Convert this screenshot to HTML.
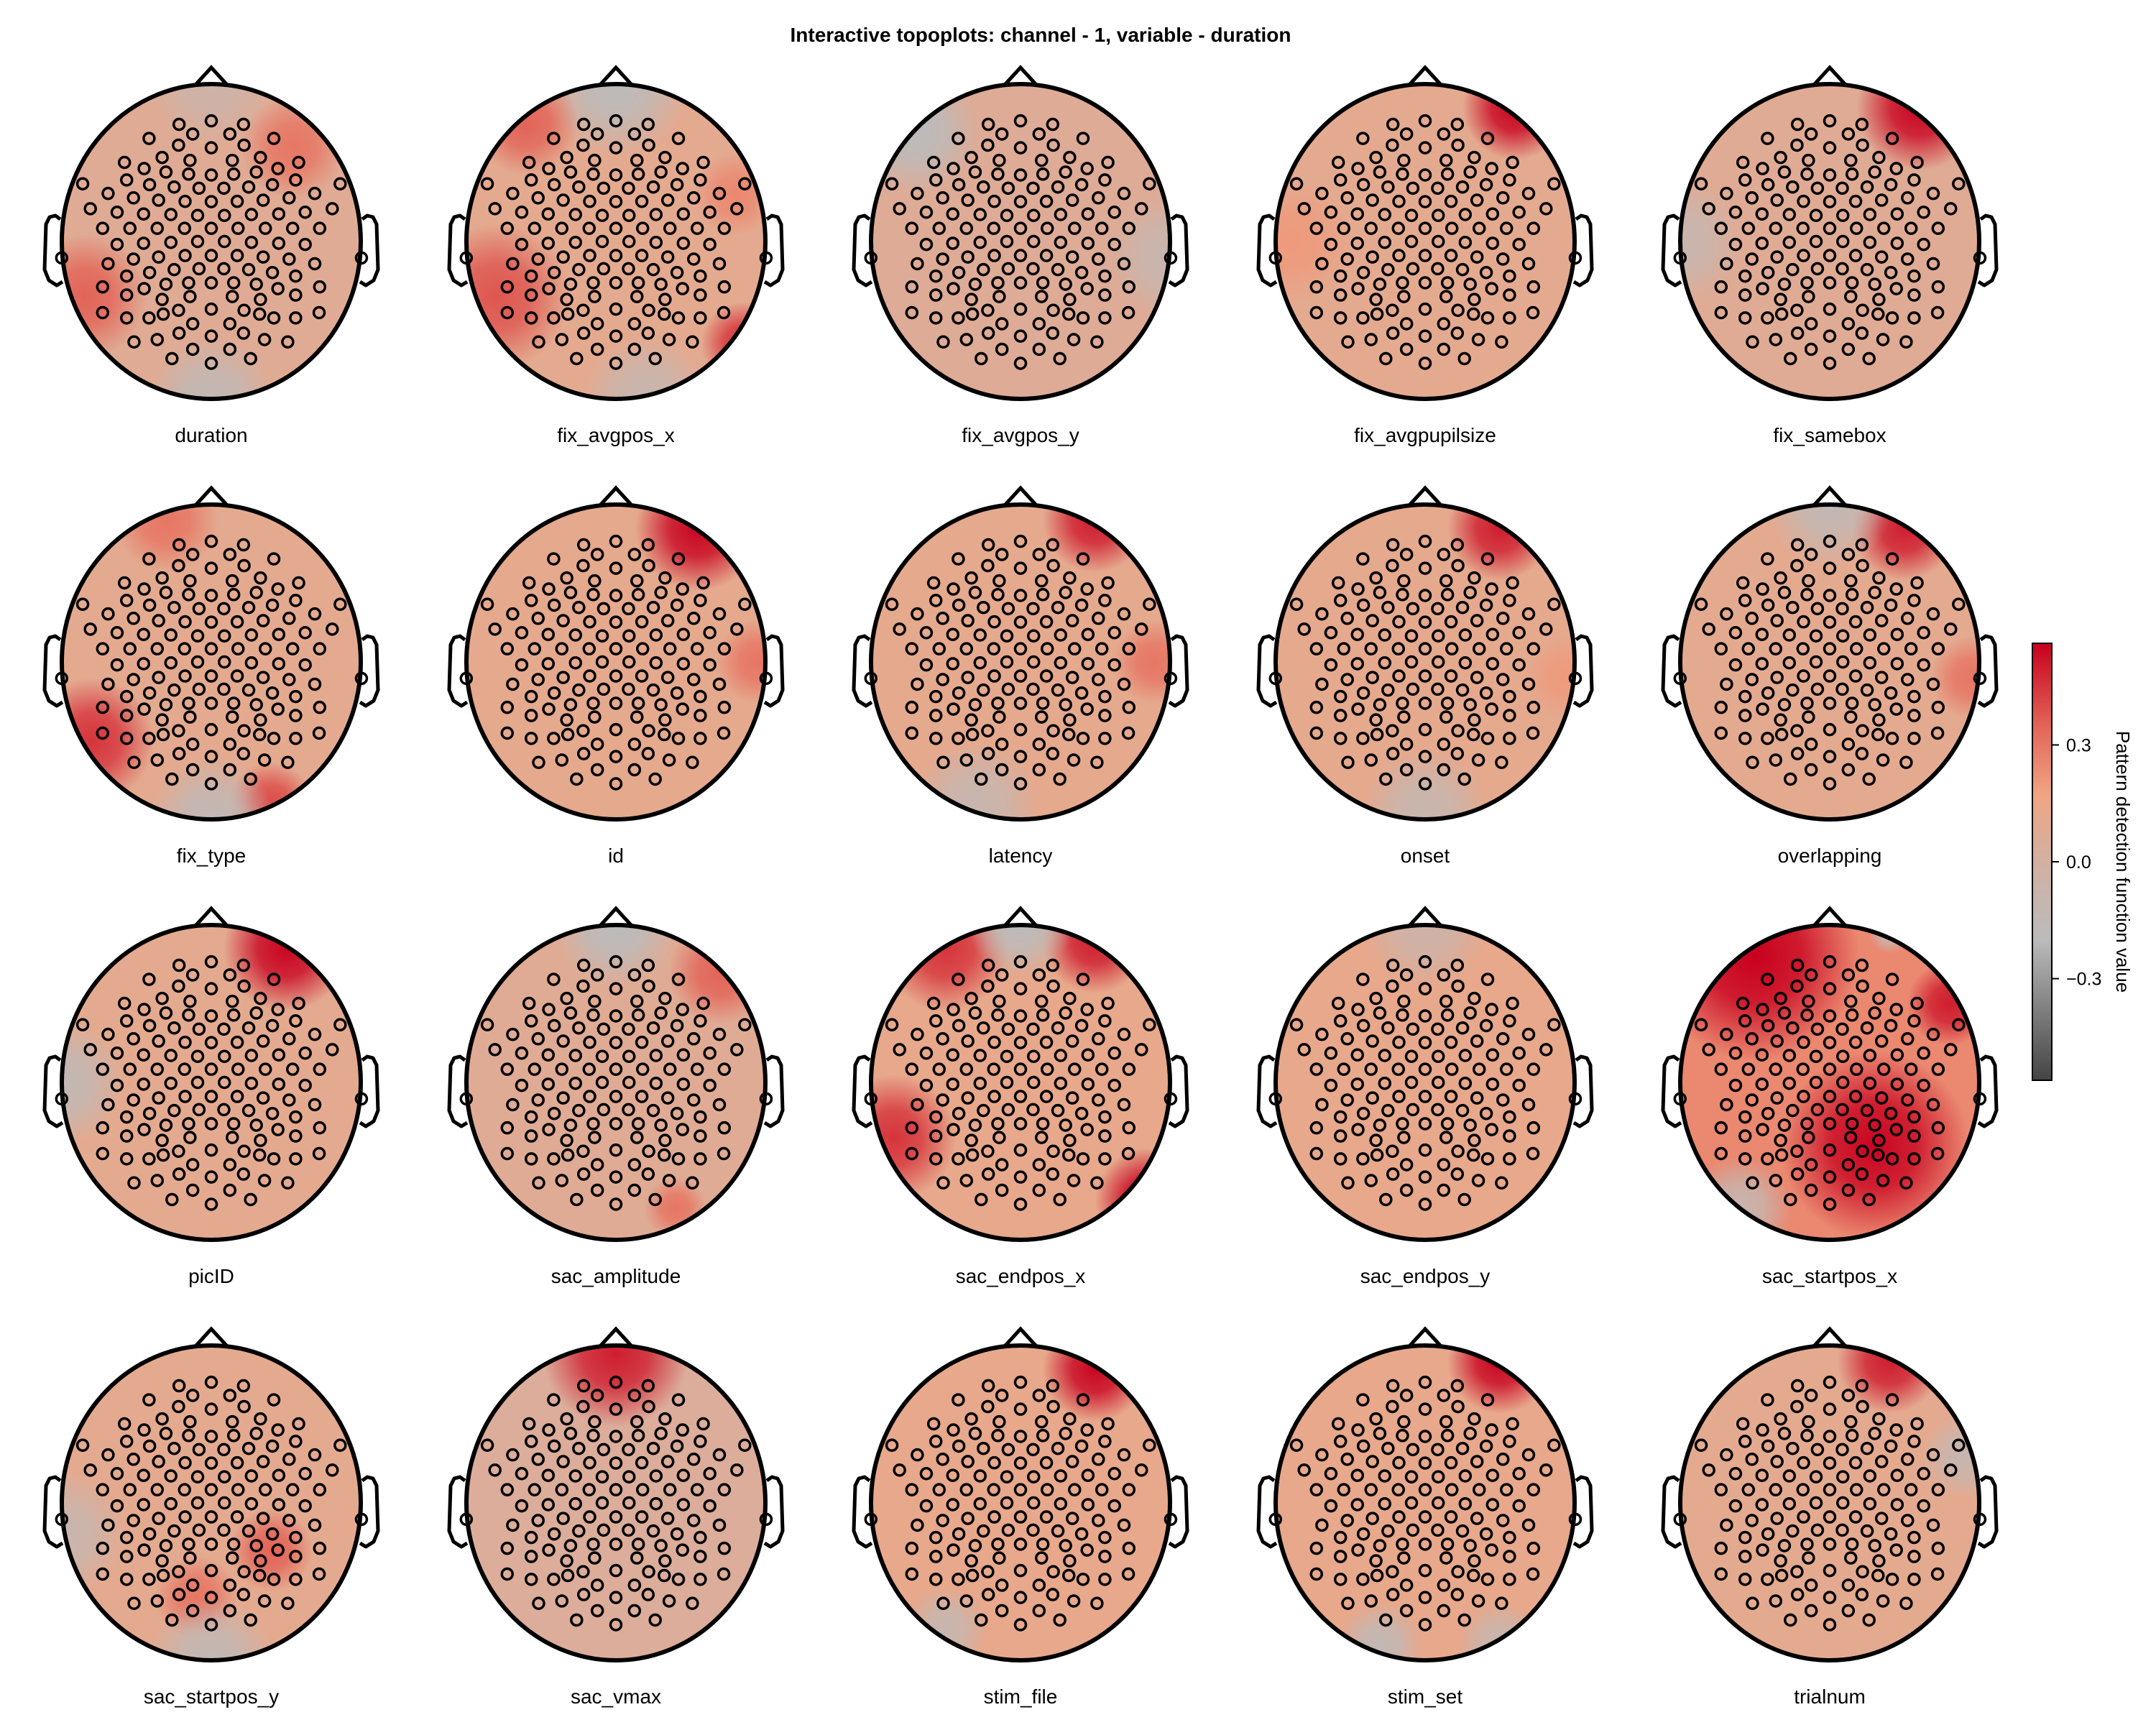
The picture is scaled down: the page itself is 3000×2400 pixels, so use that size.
<!DOCTYPE html>
<html><head><meta charset="utf-8"><style>
html,body{margin:0;padding:0;background:#fff;}
svg{display:block;font-family:"Liberation Sans",Arial,sans-serif;}
</style></head><body>
<svg id="fig" width="3000" height="2400" viewBox="0 0 3000 2400" xmlns="http://www.w3.org/2000/svg">
<defs id="defs"></defs>
<text x="1448" y="58" text-anchor="middle" font-size="28" font-weight="bold">Interactive topoplots: channel - 1, variable - duration</text>
<g id="plots"></g>
<g id="colorbar"></g>
</svg>
<script>
const NS='http://www.w3.org/2000/svg';
const labels=["duration","fix_avgpos_x","fix_avgpos_y","fix_avgpupilsize","fix_samebox","fix_type","id","latency","onset","overlapping","picID","sac_amplitude","sac_endpos_x","sac_endpos_y","sac_startpos_x","sac_startpos_y","sac_vmax","stim_file","stim_set","trialnum"];
const baseValues=[0.08,0.1,0.07,0.1,0.08,0.1,0.11,0.11,0.11,0.1,0.1,0.08,0.12,0.12,0.25,0.1,0.05,0.12,0.12,0.1];
// blobs: [u, v, radius, value]
const blobs=[
[[0.55,-0.6,0.25,0.3],[-0.85,0.35,0.3,0.35],[0,1,0.3,-0.15],[0,-1,0.3,-0.05]],
[[0,-1,0.35,-0.2],[-0.6,-0.75,0.25,0.35],[-0.8,0.35,0.35,0.38],[0.85,0.65,0.2,0.45],[0.8,-0.3,0.2,0.25],[0.2,1,0.3,-0.1]],
[[-0.7,-0.7,0.3,-0.2],[1,0.1,0.3,-0.1]],
[[0.6,-0.85,0.25,0.55],[-0.9,0,0.3,0.2]],
[[0.6,-0.85,0.3,0.55],[-1,0,0.3,-0.1]],
[[-0.8,0.5,0.3,0.45],[-0.3,-0.9,0.25,0.3],[0.4,0.9,0.2,0.4],[0,1,0.3,-0.15]],
[[0.55,-0.85,0.3,0.55],[0.95,0,0.2,0.3]],
[[0.5,-0.9,0.25,0.5],[0.9,0,0.2,0.3],[-0.3,0.9,0.3,-0.1]],
[[0.5,-0.85,0.25,0.5],[0,0.95,0.3,-0.1],[0.95,0.1,0.2,0.2]],
[[0.5,-0.85,0.25,0.5],[0.95,0.1,0.2,0.3],[0,-1,0.3,-0.15]],
[[0.5,-0.85,0.3,0.55],[-1,0,0.3,-0.15]],
[[0,-1,0.3,-0.2],[0.7,-0.7,0.25,0.35],[0.4,0.8,0.15,0.3]],
[[-0.5,-0.85,0.3,0.45],[0.5,-0.9,0.25,0.5],[0,-1,0.25,-0.2],[-0.85,0.35,0.3,0.45],[0.85,0.75,0.25,0.55]],
[[0,-1,0.3,-0.05]],
[[-0.5,-0.8,0.5,0.6],[0.8,-0.5,0.2,0.5],[0.3,0.4,0.45,0.55],[-0.6,0.8,0.25,-0.1],[0.4,-0.95,0.1,-0.1]],
[[0.4,0.3,0.2,0.35],[-0.1,0.6,0.2,0.3],[-1,0.2,0.3,-0.1],[0,1,0.3,-0.15]],
[[0,-0.95,0.35,0.5]],
[[0.5,-0.85,0.25,0.55],[-0.5,0.8,0.2,-0.1]],
[[0.5,-0.9,0.25,0.55],[0.5,0.9,0.2,-0.1],[-0.3,0.9,0.2,-0.15]],
[[0.4,-0.9,0.25,0.5],[0.9,-0.3,0.2,-0.1]]
];
const cbTicks=[0.3,0.0,-0.3];
const cbTickLabels=["0.3","0.0","\u22120.3"];
const cmapVals=[-0.56,-0.2,0.0,0.17,0.35,0.56];
const cmapCols=[[68,68,68],[187,187,187],[210,176,163],[240,165,131],[226,100,88],[200,0,30]];
// electrode layout (reference pixels in a 1095x1075 head box, centre 768,822)
const elec=[[650,422],[768,410],[886,422],[700,455],[836,455],[540,470],[997,470],[648,493],[768,502],[888,493],[588,535],[690,545],[845,545],[948,535],[450,552],[1088,552],[522,573],[602,585],[685,592],[768,595],[850,592],[933,585],[1012,573],[458,612],[542,628],[632,636],[723,640],[814,640],[905,636],[992,628],[1077,612],[297,625],[1240,625],[390,658],[1147,658],[483,673],[575,681],[672,685],[768,686],[863,685],[958,681],[1053,673],[325,710],[1211,710],[423,722],[520,728],[620,730],[718,733],[816,733],[915,730],[1015,728],[1112,722],[370,777],[470,777],[570,777],[670,777],[768,777],[866,777],[966,777],[1066,777],[1165,777],[423,832],[520,828],[620,825],[718,822],[816,822],[915,825],[1015,828],[1112,832],[220,878],[1318,878],[390,898],[483,882],[575,875],[672,870],[768,870],[863,870],[958,875],[1053,882],[1147,898],[458,940],[542,928],[632,918],[723,915],[814,915],[905,918],[992,928],[1077,940],[370,977],[458,1005],[522,983],[602,968],[685,963],[768,963],[850,963],[933,968],[1012,983],[1077,1005],[1165,977],[588,1020],[690,1010],[845,1010],[948,1020],[370,1065],[458,1083],[540,1083],[592,1070],[648,1057],[768,1053],[888,1057],[945,1070],[997,1083],[1077,1083],[1163,1065],[700,1103],[836,1103],[485,1165],[570,1157],[650,1135],[768,1145],[886,1135],[963,1157],[1048,1165],[700,1190],[836,1190],[624,1222],[768,1238],[912,1222]];

function cmap(v){
  if(v<=cmapVals[0]) return 'rgb('+cmapCols[0]+')';
  for(let i=1;i<cmapVals.length;i++){
    if(v<=cmapVals[i]){const t=(v-cmapVals[i-1])/(cmapVals[i]-cmapVals[i-1]);
      const c=cmapCols[i-1].map((a,k)=>Math.round(a+(cmapCols[i][k]-a)*t));return 'rgb('+c.join(',')+')';}
  }
  return 'rgb('+cmapCols[cmapCols.length-1]+')';
}
function mk(tag,attrs,parent){const e=document.createElementNS(NS,tag);for(const k in attrs)e.setAttribute(k,attrs[k]);if(parent)parent.appendChild(e);return e;}
const defs=document.getElementById('defs');
const plots=document.getElementById('plots');
const colX=[294,857,1420,1983,2546];
const rowY=[336,921,1506,2091];
const RX=208,RY=219;
labels.forEach((name,i)=>{
  const cx=colX[i%5],cy=rowY[Math.floor(i/5)];
  const g=mk('g',{},plots);
  
  
  const cp=mk('clipPath',{id:'clip'+i},defs);
  mk('ellipse',{cx:cx,cy:cy,rx:RX,ry:RY},cp);
  const hm=mk('g',{'clip-path':'url(#clip'+i+')'},g);
  
  
  mk('rect',{x:cx-RX,y:cy-RY,width:2*RX,height:2*RY,fill:cmap(baseValues[i])},hm);
  blobs[i].forEach((b,j)=>{
    const id='g'+i+'_'+j;const col=cmap(b[3]);
    const rg=mk('radialGradient',{id:id,gradientUnits:'userSpaceOnUse',cx:cx+b[0]*RX,cy:cy+b[1]*RY,r:b[2]*RX*1.4},defs);
    mk('stop',{offset:'0','stop-color':col,'stop-opacity':'1'},rg);
    mk('stop',{offset:'0.45','stop-color':col,'stop-opacity':'0.8'},rg);
    mk('stop',{offset:'1','stop-color':col,'stop-opacity':'0'},rg);
    mk('rect',{x:cx-RX,y:cy-RY,width:2*RX,height:2*RY,fill:'url(#'+id+')'},hm);
  });
  const head=mk('ellipse',{cx:cx,cy:cy,rx:RX,ry:RY,fill:'none',stroke:'#000','stroke-width':6},g);
  
  
  const nose=mk('polyline',{points:`${cx-22},${cy-RY+1} ${cx},${cy-RY-23} ${cx+22},${cy-RY+1}`,fill:'none',stroke:'#000','stroke-width':5,'stroke-linejoin':'miter'},g);
  
  
  [1,-1].forEach(s=>{
    const pts=[[2,-52],[9,-57],[17,-55],[22,-45],[24,18],[18,33],[7,40],[-1,35]].map(p=>`${cx+s*(RX+p[0])},${cy+p[1]+21}`).join(' ');
    const ear=mk('polyline',{points:pts,fill:'none',stroke:'#000','stroke-width':5,'stroke-linejoin':'round'},g);
    
    
  });
  const eg=mk('g',{fill:'none',stroke:'#000','stroke-width':3.5},g);
  
  
  elec.forEach(p=>{
    const u=(p[0]-768)/547.5,v=(p[1]-822)/537.5;
    const c=mk('circle',{cx:cx+u*RX,cy:cy+v*RY,r:7.5},eg);
    
    
  });
  const t=mk('text',{x:cx,y:cy+RY+60,'text-anchor':'middle','font-size':28,fill:'#000'},g);
  t.textContent=name;
  
  
});
// colorbar
const cb=document.getElementById('colorbar');
const cbX=2828,cbW=27,cbTop=895,cbBot=1503,vTop=0.561,vBot=-0.561;
const yOf=v=>cbTop+(vTop-v)/(vTop-vBot)*(cbBot-cbTop);
const lg=mk('linearGradient',{id:'cbgrad',x1:0,y1:1,x2:0,y2:0},defs);
cmapVals.forEach((v,k)=>{mk('stop',{offset:((v-vBot)/(vTop-vBot)).toFixed(3),'stop-color':'rgb('+cmapCols[k]+')'},lg);});
const bar=mk('rect',{x:cbX,y:cbTop,width:cbW,height:cbBot-cbTop,fill:'url(#cbgrad)',stroke:'#000','stroke-width':2},cb);


cbTicks.forEach((v,k)=>{
  const y=yOf(v);
  const tk=mk('line',{x1:cbX+cbW,x2:cbX+cbW+10,y1:y,y2:y,stroke:'#000','stroke-width':2},cb);
  
  
  const tl=mk('text',{x:cbX+cbW+20,y:y+9,'font-size':25},cb);
  tl.textContent=cbTickLabels[k];
  
  
});
const at=mk('text',{x:0,y:0,'font-size':26,'text-anchor':'middle',transform:'translate(2945,1199) rotate(90)'},cb);
at.textContent='Pattern detection function value';


</script>
</body></html>
